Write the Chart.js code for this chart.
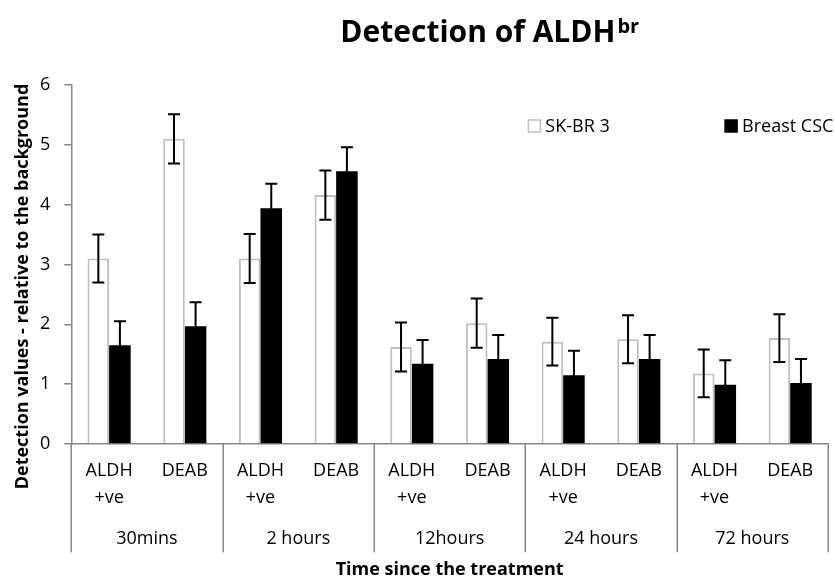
<!DOCTYPE html>
<html>
<head>
<meta charset="utf-8">
<title>Detection of ALDHbr</title>
<script src="https://cdn.jsdelivr.net/npm/chart.js@4.4.1/dist/chart.umd.min.js"></script>
<style>
  html, body { margin: 0; padding: 0; background: #ffffff; }
  #wrap { width: 835px; height: 579px; }
</style>
</head>
<body>
<div id="wrap"><canvas id="chart" width="835" height="579"></canvas></div>
<script>
// chart data
const treatments = [['ALDH', '+ve'], 'DEAB'];
const timePoints = ['30mins', '2 hours', '12hours', '24 hours', '72 hours'];
const seriesNames = ['SK-BR 3', 'Breast CSC'];
const skbr3Values = [3.10, 5.10, 3.10, 4.16, 1.62, 2.02, 1.71, 1.75, 1.18, 1.77];
const skbr3Errors = [0.40, 0.41, 0.41, 0.41, 0.41, 0.41, 0.40, 0.40, 0.40, 0.40];
const cscValues = [1.65, 1.97, 3.94, 4.56, 1.34, 1.42, 1.15, 1.42, 0.99, 1.02];
const cscErrors = [0.40, 0.40, 0.41, 0.40, 0.40, 0.40, 0.41, 0.40, 0.41, 0.40];
const yTicks = [0, 1, 2, 3, 4, 5, 6];
const titleMain = 'Detection of ALDH';
const titleSup = 'br';
const yTitle = 'Detection values - relative to the background';
const xTitle = 'Time since the treatment';

const FONT = '"Open Sans", "Noto Sans", sans-serif';
const AXIS_GREY = '#868686';

// one label per bar pair: 2 treatments for every time point
const categories = [];
timePoints.forEach(function () {
    treatments.forEach(function (t) { categories.push(t); });
});

// error bars drawn on top of every bar
const errorBars = {
    id: 'errorBars',
    afterDatasetsDraw: function (chart) {
        const ctx = chart.ctx;
        const y = chart.scales.y;
        ctx.save();
        ctx.strokeStyle = '#000';
        ctx.lineWidth = 2;
        chart.data.datasets.forEach(function (ds, i) {
            const meta = chart.getDatasetMeta(i);
            meta.data.forEach(function (bar, j) {
                const v = ds.data[j];
                const e = ds.errors[j];
                const top = y.getPixelForValue(v + e);
                const bot = y.getPixelForValue(v - e);
                const x = bar.x;
                ctx.beginPath();
                ctx.moveTo(x, top); ctx.lineTo(x, bot);
                ctx.moveTo(x - 6, top); ctx.lineTo(x + 6, top);
                ctx.moveTo(x - 6, bot); ctx.lineTo(x + 6, bot);
                ctx.stroke();
            });
        });
        ctx.restore();
    }
};

// title with superscript, rotated y title, legend and group separators
const decorations = {
    id: 'decorations',
    afterDraw: function (chart) {
        const ctx = chart.ctx;
        const area = chart.chartArea;
        const x = chart.scales.x;
        const x2 = chart.scales.x2;
        ctx.save();

        // group separators below the axis
        const lh2 = x2.options.ticks.font.size * x2.options.ticks.font.lineHeight;
        const sepBottom = x2.top + x2.options.ticks.padding + lh2;
        ctx.strokeStyle = AXIS_GREY;
        ctx.lineWidth = 1.5;
        for (let i = 0; i <= timePoints.length; i++) {
            const px = Math.round(x.left + (x.right - x.left) * i / timePoints.length) + 0.25;
            ctx.beginPath();
            ctx.moveTo(px, x.top);
            ctx.lineTo(px, sepBottom);
            ctx.stroke();
        }

        // chart title
        ctx.fillStyle = '#000';
        ctx.textBaseline = 'alphabetic';
        ctx.textAlign = 'left';
        ctx.font = 'bold 30px ' + FONT;
        const w1 = ctx.measureText(titleMain).width;
        ctx.font = 'bold 20px ' + FONT;
        const w2 = ctx.measureText(titleSup).width;
        const cx = area.left + area.width * 0.553;
        const tx = cx - (w1 + w2 + 2) / 2;
        ctx.font = 'bold 30px ' + FONT;
        ctx.fillText(titleMain, tx, 42);
        ctx.font = 'bold 20px ' + FONT;
        ctx.fillText(titleSup, tx + w1 + 2, 33);

        // y axis title
        ctx.save();
        ctx.translate(23, (area.top + area.bottom) / 2 + 22);
        ctx.rotate(-Math.PI / 2);
        ctx.textAlign = 'center';
        ctx.textBaseline = 'middle';
        ctx.font = 'bold 18px ' + FONT;
        ctx.fillText(yTitle, 0, 0);
        ctx.restore();

        // legend
        ctx.font = '18px ' + FONT;
        ctx.textBaseline = 'alphabetic';
        const legendItems = [
            { x: area.left + area.width * 0.604, fill: '#fff', stroke: '#BFBFBF' },
            { x: area.left + area.width * 0.864, fill: '#000', stroke: '#000' }
        ];
        legendItems.forEach(function (it, i) {
            ctx.fillStyle = it.fill;
            ctx.fillRect(it.x, 120, 12, 12);
            ctx.strokeStyle = it.stroke;
            ctx.lineWidth = 1.5;
            ctx.strokeRect(it.x, 120, 12, 12);
            ctx.fillStyle = '#000';
            ctx.fillText(seriesNames[i], it.x + 17, 132);
        });

        ctx.restore();
    }
};

const chart = new Chart(document.getElementById('chart').getContext('2d'), {
    type: 'bar',
    data: {
        labels: categories,
        datasets: [
            {
                label: seriesNames[0],
                data: skbr3Values,
                errors: skbr3Errors,
                backgroundColor: '#ffffff',
                borderColor: '#BFBFBF',
                borderWidth: 2,
                categoryPercentage: 0.57,
                barPercentage: 1.0
            },
            {
                label: seriesNames[1],
                data: cscValues,
                errors: cscErrors,
                backgroundColor: '#000000',
                borderWidth: 0,
                categoryPercentage: 0.57,
                barPercentage: 1.0
            }
        ]
    },
    options: {
        responsive: false,
        animation: false,
        devicePixelRatio: 1,
        layout: { padding: { top: 85, left: 26, right: 7, bottom: 0 } },
        plugins: {
            legend: { display: false },
            title: { display: false },
            tooltip: { enabled: false }
        },
        scales: {
            x: {
                type: 'category',
                weight: 0,
                grid: { display: false, drawTicks: false },
                border: { display: true, color: AXIS_GREY, width: 1.5 },
                ticks: {
                    color: '#000',
                    padding: 14,
                    maxRotation: 0,
                    autoSkip: false,
                    font: { family: FONT, size: 18, lineHeight: 1.46 }
                },
                afterFit: function (axis) { axis.height = 67; }
            },
            x2: {
                type: 'category',
                position: 'bottom',
                weight: 1,
                labels: timePoints,
                offset: true,
                grid: { display: false, drawTicks: false },
                border: { display: false },
                ticks: {
                    color: '#000',
                    padding: 15,
                    maxRotation: 0,
                    autoSkip: false,
                    font: { family: FONT, size: 18, lineHeight: 1.46 }
                },
                title: {
                    display: true,
                    text: xTitle,
                    color: '#000',
                    padding: { top: 9, bottom: 0 },
                    font: { family: FONT, size: 18, weight: 'bold', lineHeight: 1.0 }
                },
                afterFit: function (axis) { axis.height = 68; }
            },
            y: {
                min: 0,
                max: 6,
                afterBuildTicks: function (axis) {
                    axis.ticks = yTicks.map(function (v) { return { value: v }; });
                },
                grid: { drawOnChartArea: false, drawTicks: true, tickLength: 7, color: AXIS_GREY, lineWidth: 1.5 },
                border: { display: true, color: AXIS_GREY, width: 1.5 },
                ticks: {
                    color: '#000',
                    padding: 14,
                    font: { family: FONT, size: 18 }
                }
            }
        }
    },
    plugins: [errorBars, decorations]
});
</script>
</body>
</html>
